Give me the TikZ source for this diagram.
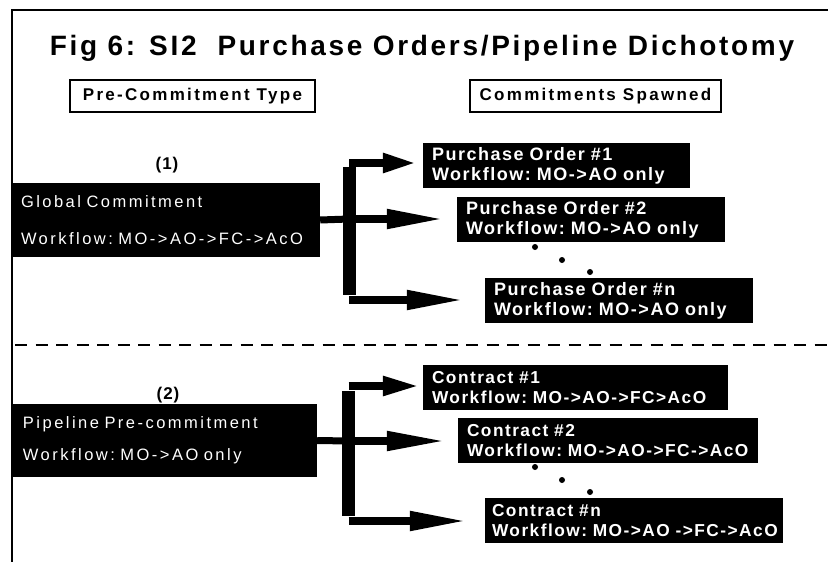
\documentclass[tikz,border=0pt]{standalone}
\usepackage{fontspec}
\setmainfont{Liberation Sans}
\usetikzlibrary{arrows.meta,positioning}

\begin{document}
\begin{tikzpicture}
[x=1pt,y=-1pt]
\tikzset{
	headbox/.style = {draw, line width=1.2pt, minimum width=#1, minimum height=32, inner sep=0,
		font=\fontsize{17}{19}\selectfont\bfseries\addfontfeature{LetterSpace=13.5}},
	tagtext/.style = {font=\fontsize{17}{19}\selectfont\bfseries\addfontfeature{LetterSpace=6}},
	precbox/.style = {fill=black, text=white, minimum height=74, inner xsep=8, inner ysep=0,
		text width=#1-16, align=left},
	spawnbox/.style = {fill=black, text=white, minimum height=45, inner xsep=9, inner ysep=0,
		text width=#1-18, align=left,
		execute at begin node={\exhyphenpenalty=10000\hyphenpenalty=10000},
		font=\fontsize{18}{20}\selectfont\bfseries\addfontfeature{LetterSpace=8.5}},
	contractbox/.style = {spawnbox=#1,
		font=\fontsize{17.3}{20}\selectfont\bfseries\addfontfeature{LetterSpace=8.5}},
	trunk/.style = {line width=7},
	spine/.style = {line width=13},
	branch/.style = {line width=8, -{Triangle[length=#1, width=18]}},
	dot/.style = {circle, fill=black, inner sep=0, minimum size=6}
}

\useasboundingbox (0,0) rectangle (828,562);

% frame and title
\draw [line width=2] (12,562) -- (12,10) -- (828,10);
\node (title) [anchor=base, font=\fontsize{28}{30}\selectfont\bfseries\addfontfeature{LetterSpace=9.6}]
	at (422,55) {Fig 6: SI2\ \ Purchase Orders/Pipeline Dichotomy};

\node (typehd) [headbox=245] at (192.5,96) {Pre-Commitment Type};
\node (spawnhd) [headbox=251] at (595.5,96) {Commitments Spawned};

% (1) global commitment
\node (tag1) [tagtext] at (167,165) {(1)};
\node (gc) [precbox=307, font=\fontsize{16.5}{37}\selectfont\addfontfeature{LetterSpace=15}]
	at (166.5,220) {Global Commitment\\Workflow:~MO->AO->FC->AcO};

\node (po1) [spawnbox=267] at (556.5,165.5) {Purchase Order \#1\\Workflow:~MO->AO~only};
\node (po2) [spawnbox=268] at (591,219.5) {Purchase Order \#2\\Workflow:~MO->AO~only};
\node (pon) [spawnbox=268] at (619,300.5) {Purchase Order \#n\\Workflow:~MO->AO~only};

\node (d1a) [dot] at (535,247) {};
\node (d1b) [dot] at (562,260) {};
\node (d1c) [dot] at (590,272) {};

\coordinate (s1) at (349,219);
\coordinate (s1a) at (349,163);
\coordinate (s1b) at (349,300);
\draw [trunk] (gc.east) -- (s1);
\draw [spine] ([yshift=-4]s1a) -- ([yshift=5]s1b);
\draw [branch=34, shorten >=6] (s1a) -- (s1a -| po1.west);
\draw [branch=58, shorten >=12] (s1) -- (s1 -| po2.west);
\draw [branch=58, shorten >=20] (s1b) -- (s1b -| pon.west);

\draw [line width=2, dash pattern=on 12 off 8.5] (15,345) -- (828,345);

% (2) pipeline pre-commitment
\node (tag2) [tagtext] at (168,395) {(2)};
\node (pp) [precbox=304, minimum height=73, inner xsep=10, text width=284,
	font=\fontsize{16.5}{32}\selectfont\addfontfeature{LetterSpace=15}]
	at (165,440.5) {Pipeline Pre-commitment\\Workflow:~MO->AO~only};

\node (ct1) [contractbox=305] at (575.5,387.5) {Contract \#1\\Workflow:~MO->AO->FC>AcO};
\node (ct2) [contractbox=300] at (608,440.5) {Contract \#2\\Workflow:~MO->AO->FC->AcO};
\node (ctn) [contractbox=298, inner xsep=7, text width=284] at (634,520.5)
	{Contract \#n\\Workflow:~MO->AO~->FC->AcO};

\node (d2a) [dot] at (535,467) {};
\node (d2b) [dot] at (562,480) {};
\node (d2c) [dot] at (590,492) {};

\coordinate (s2) at (348.5,441);
\coordinate (s2a) at (348.5,386);
\coordinate (s2b) at (348.5,521);
\draw [trunk] (pp.east) -- (s2);
\draw [spine] ([yshift=-5]s2a) -- ([yshift=5]s2b);
\draw [branch=37, shorten >=3] (s2a) -- (s2a -| ct1.west);
\draw [branch=60, shorten >=11] (s2) -- (s2 -| ct2.west);
\draw [branch=58, shorten >=17] (s2b) -- (s2b -| ctn.west);

\end{tikzpicture}
\end{document}
